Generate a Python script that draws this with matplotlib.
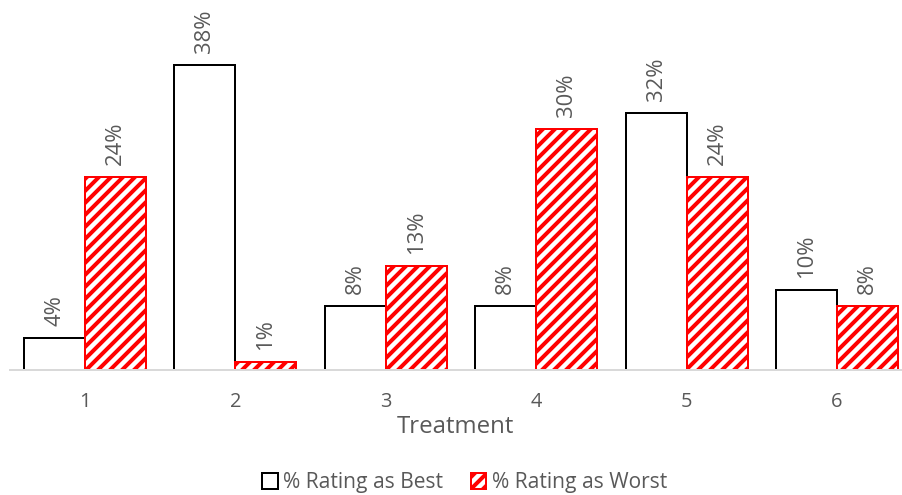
import numpy as np
import matplotlib
matplotlib.use("Agg")
from matplotlib import pyplot as plt
from matplotlib.patches import Rectangle

treatments = ["1", "2", "3", "4", "5", "6"]
pct_best = [4, 38, 8, 8, 32, 10]
pct_worst = [24, 1, 13, 30, 24, 8]

plt.rcParams["font.family"] = ["Open Sans", "DejaVu Sans"]
plt.rcParams["hatch.linewidth"] = 4
plt.rcParams["hatch.color"] = "red"
text_col = "#595959"

dpi = 72
fig = plt.figure(figsize=(902 / dpi, 495 / dpi), dpi=dpi)
ax = fig.add_axes([9.8 / 902, 125 / 495, 1 - 9.8 / 902, 361.4 / 495])

x = np.arange(len(treatments))
w = 0.405

best = ax.bar(x - w / 2, pct_best, w, facecolor="white", edgecolor="black", linewidth=2)
worst = ax.bar(x + w / 2, pct_worst, w, facecolor="white", edgecolor="red",
               linewidth=2, hatch="//")

# rotated value labels above each bar
for bars, vals in ((best, pct_best), (worst, pct_worst)):
    for b, v in zip(bars, vals):
        ax.annotate(f"{v}%", (b.get_x() + b.get_width() / 2, v),
                    xytext=(0, 12), textcoords="offset points",
                    rotation=90, ha="center", va="bottom",
                    fontsize=22, color=text_col)

ax.set_xlim(-0.5, 5.432)
ax.set_ylim(0, 45)
ax.set_yticks([])
ax.set_xticks(x)
ax.set_xticklabels(treatments, fontsize=20, color=text_col)
ax.tick_params(axis="x", length=0, pad=22)
for side in ("top", "left", "right"):
    ax.spines[side].set_visible(False)
ax.spines["bottom"].set_color("#d9d9d9")
ax.spines["bottom"].set_linewidth(2)
ax.set_xlabel("Treatment", fontsize=24, color=text_col, labelpad=3)

handles = [Rectangle((0, 0), 1, 1, facecolor="white", edgecolor="black", linewidth=2),
           Rectangle((0, 0), 1, 1, facecolor="white", edgecolor="red", linewidth=2, hatch="//")]
fig.legend(handles, ["% Rating as Best", "% Rating as Worst"], loc="lower center",
           bbox_to_anchor=(0.515, -0.035), ncol=2, frameon=False, fontsize=21,
           labelcolor=text_col, handlelength=0.75, handleheight=0.75,
           handletextpad=0.25, columnspacing=1.3)

fig.savefig("out.png", dpi=dpi)
